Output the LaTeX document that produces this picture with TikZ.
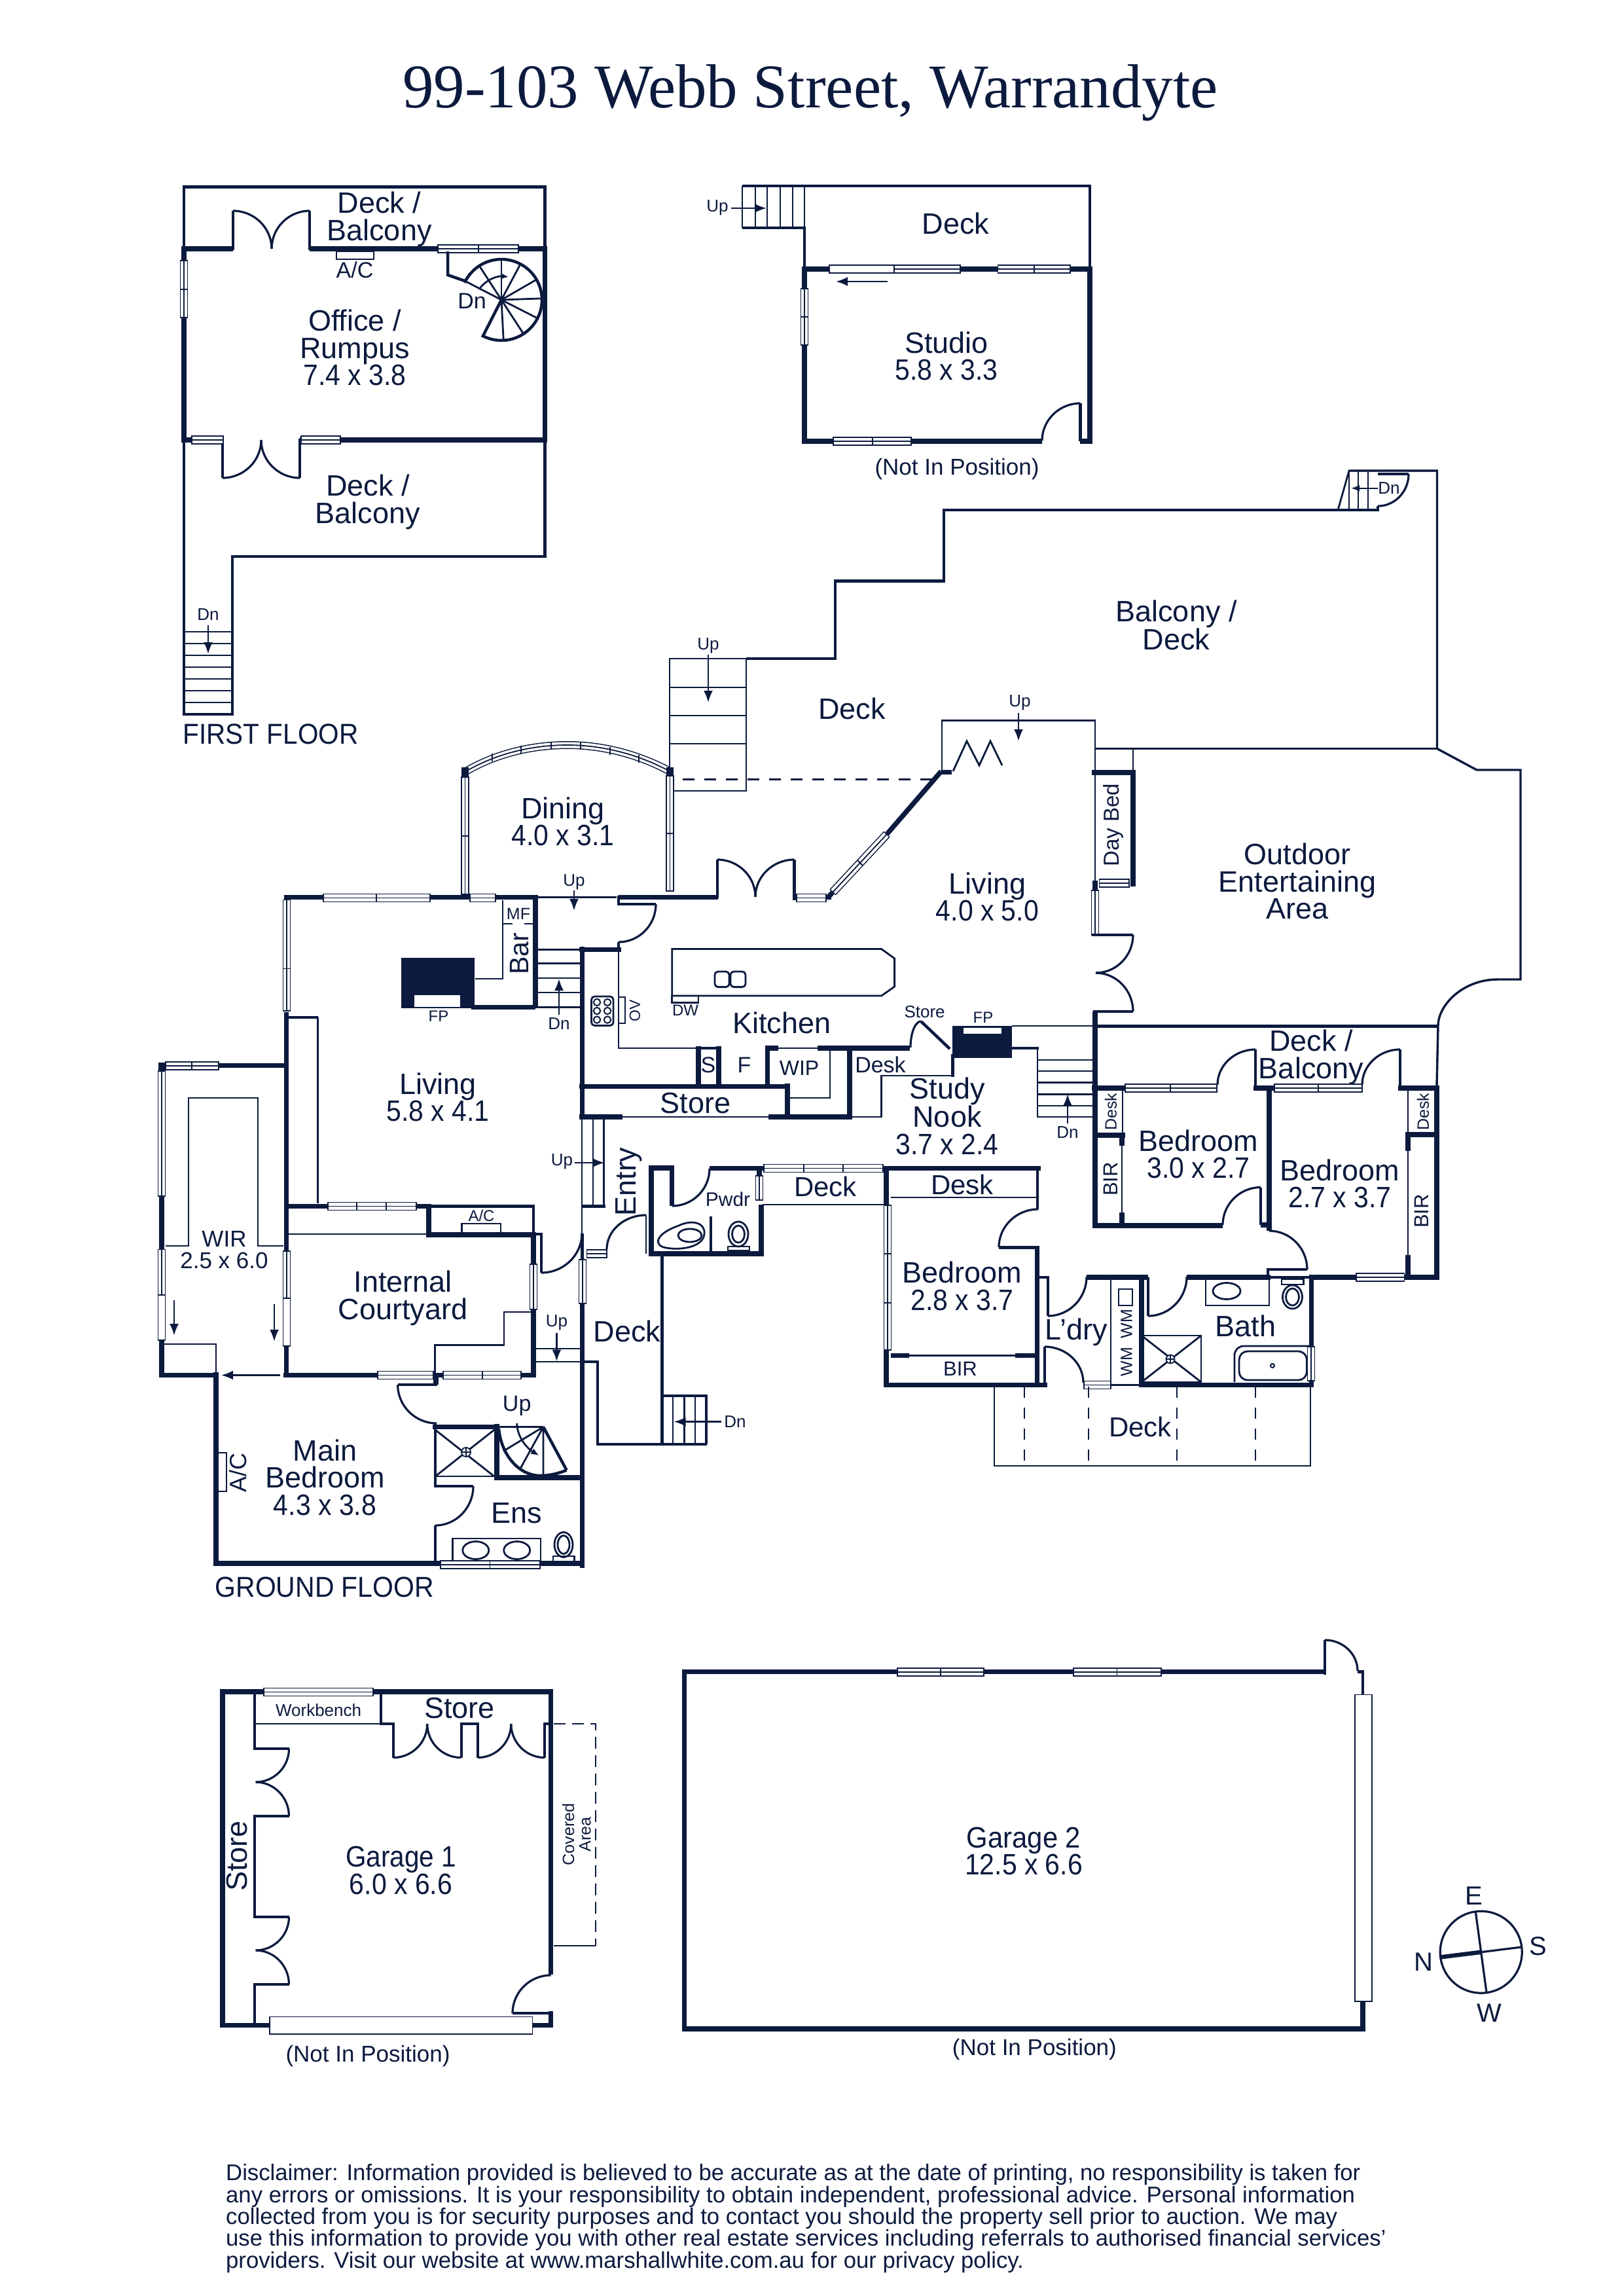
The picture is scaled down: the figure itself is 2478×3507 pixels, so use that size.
\documentclass[tikz,border=0pt]{standalone}
\usepackage{fontspec}
\setmainfont{Liberation Sans}
\newfontfamily\titlefont{Liberation Serif}
\usetikzlibrary{arrows.meta}
\definecolor{navy}{HTML}{0C1A3E}
\newcommand{\dm}[1]{\scalebox{0.91}[1]{#1}}
\newcommand{\qarc}[4]{\pgfmathsetmacro\qca{#2+0.55*(#4-(#2))}\pgfmathsetmacro\qcb{#3+0.55*(#1-(#3))}\draw[doorl] (#1,#2) .. controls (#1,\qca) and (\qcb,#4) .. (#3,#4);}
\newcommand{\hwin}[4]{\draw[winl,fill=white] (#1,#3-6) rectangle (#2,#3+6);\draw[winl] (#1,#3)--(#2,#3);\foreach \m in {#4}{\draw[winl] (\m,#3-6)--(\m,#3+6);}}
\newcommand{\vwin}[4]{\draw[winl,fill=white] (#1-5.5,#2) rectangle (#1+5.5,#3);\draw[winl] (#1,#2)--(#1,#3);\foreach \m in {#4}{\draw[winl] (#1-5.5,\m)--(#1+5.5,\m);}}
\newcommand{\hpl}[3]{\draw[winl,fill=white] (#1,#3-6) rectangle (#2,#3+6);}
\newcommand{\vpl}[3]{\draw[winl,fill=white] (#1-5.5,#2) rectangle (#1+5.5,#3);}
\tikzset{
 wall/.style={line width=7.5},
 mwall/.style={line width=4.5},
 thinl/.style={line width=2.8},
 doorl/.style={line width=3.2},
 winl/.style={line width=1.8},
 arr/.style={line width=2.6,-{Latex[length=18,width=14]}},
 room/.style={inner sep=0,align=center,font=\fontsize{45}{41.5}\selectfont},
 medt/.style={inner sep=0,align=center,font=\fontsize{34}{34}\selectfont},
 nipt/.style={inner sep=0,align=center,font=\fontsize{35}{35}\selectfont},
 smal/.style={inner sep=0,align=center,font=\fontsize{26}{26}\selectfont},
}
\begin{document}
\begin{tikzpicture}[x=1pt,y=-1pt,color=navy]
\useasboundingbox (0,0) rectangle (2478,3507);
\fill[white] (0,0) rectangle (2478,3507);

%%%% FIRST FLOOR OFFICE
\draw[mwall] (281,380)--(281,285.6)--(832.5,285.6)--(832.5,380);
\draw[mwall] (832.5,672)--(832.5,850)--(355,850)--(355,1091)--(281,1091)--(281,672);
\foreach \y in {965,983,1001,1019,1037,1055,1073}{\draw[thinl] (281,\y)--(355,\y);}
\draw[wall] (356,380)--(281,380)--(281,672)--(341,672);
\draw[wall] (473,380)--(832.5,380)--(832.5,672)--(458,672);
\draw[mwall] (356,382)--(356,322) (473,382)--(473,322) (340,670)--(340,730) (458,670)--(458,730);
\qarc{415}{380}{356}{322}\qarc{415}{380}{473}{322}\qarc{399}{672}{340}{730}\qarc{399}{672}{458}{730}
\hwin{669}{792}{380}{731}
\hwin{293}{341}{672}{293}
\hwin{460}{520}{672}{460}
\vwin{281}{398}{485}{442}
\draw[thinl,fill=white] (514,384) rectangle (571,396);
% spiral
\draw[mwall] (684,384)--(684,420)--(710,429);
\draw[thinl] (710,429)--(766,458);
\foreach \a in {90,62,30,2,-27,-57,-87,123}{\draw[thinl] (766,458)--({766+62*cos(\a)},{458-62*sin(\a)});}
\draw[mwall] plot[domain=155:-117,samples=50] ({766+62*cos(\x)},{458-62*sin(\x)})--(766,458);
\draw[thinl,-{Latex[length=10,width=8]}] (732,442) .. controls (742,427) and (760,421) .. (777,423);
\draw[arr] (318,955)--(318,999);

%%%% STUDIO
\draw[mwall] (1134,284)--(1665,284)--(1665,410);
\draw[mwall] (1229,410)--(1229,348)--(1134,348);
\draw[thinl] (1134,284)--(1134,348);
\foreach \x in {1154,1172,1192,1211,1229}{\draw[thinl] (\x,284)--(\x,348);}
\draw[wall] (1592,674)--(1229,674)--(1229,411)--(1665,411)--(1665,674)--(1650,674);
\draw[mwall] (1650.5,674)--(1650.5,616);
\qarc{1592}{673}{1650.5}{616}
\hpl{1267}{1366}{411}
\hwin{1366}{1467}{411}{1366}
\hwin{1524.5}{1635}{411}{1580}
\vwin{1229}{441}{527}{484}
\hwin{1273}{1392}{674}{1333}
\draw[arr] (1356,430)--(1277,430);
\draw[arr] (1117,318)--(1171,318);

%%%% BALCONY OUTLINE
\draw[mwall] (1140,1006)--(1276,1006)--(1276,887.5)--(1442,887.5)--(1442,779)--(2107,779);
\draw[thinl] (1023,1187)--(1023,1006)--(1140,1006);
\draw[thinl] (1140,1006)--(1140,1208)--(1023,1208);
\foreach \y in {1050,1093,1136}{\draw[thinl] (1023,\y)--(1140,\y);}
\draw[line width=3,dash pattern=on 18 off 15] (1043,1190.6)--(1431,1190.6);
\draw[arr] (1082,1000)--(1082,1073);
\draw[thinl] (2044,779)--(2061,719)--(2195.5,719);
\draw[line width=3.4] (2061,719)--(2195.5,719)--(2195.5,1143.5)--(2256,1176)--(2323,1176)--(2323,1496)--(2288,1496) .. controls (2235,1496) and (2197,1535) .. (2197,1567)--(2195,1658);
\draw[line width=3.4] (1673,1143.5)--(2195.5,1143.5);
\foreach \x in {2061,2075,2090}{\draw[thinl] (\x,719)--(\x,779);}
\draw[mwall] (2105,779)--(2105,773);
\draw[mwall] (2105,724)--(2152,724);
\qarc{2152}{724}{2105}{773}
\draw[line width=2.4,-{Latex[length=13,width=10]}] (2105,745.7)--(2064,745.7);

%%%% UPPER LIVING
\draw[thinl] (1439,1178)--(1439,1100.5)--(1673,1100.5)--(1673,1178);
\draw[thinl] (1731,1144)--(1731,1180);
\draw[thinl] (1456,1178)--(1477,1132)--(1496,1169)--(1513,1132)--(1531,1169);
\draw[arr] (1556,1089)--(1556,1132);
\draw[wall] (1355,1274)--(1438,1178);
\draw[wall] (1438,1179.5)--(1454,1179.5);
\draw[wall] (1668,1180)--(1735,1180);
\draw[wall] (1731,1176)--(1731,1354);
\draw[thinl] (1673,1180)--(1673,1345);
\draw[wall] (1673,1345)--(1673,1360);
\hwin{1679.5}{1725}{1349}{1679.5}
\vwin{1673}{1360}{1428}{1360}
\draw[mwall] (1668,1428)--(1731,1428);
\qarc{1731}{1428}{1674}{1486}\qarc{1731}{1545}{1674}{1486}
\draw[wall] (1673,1545)--(1673,1873);
\draw[mwall] (1670,1545)--(1731,1545);
\draw[mwall] (1672,1567.5)--(2197,1567.5);

%%%% DINING
\draw[line width=12] (712,1178) .. controls (760,1150) and (815,1138) .. (867,1138) .. controls (920,1138) and (975,1152) .. (1023,1178);
\draw[line width=9,white] (712,1178) .. controls (760,1150) and (815,1138) .. (867,1138) .. controls (920,1138) and (975,1152) .. (1023,1178);
\draw[line width=1.8] (712,1178) .. controls (760,1150) and (815,1138) .. (867,1138) .. controls (920,1138) and (975,1152) .. (1023,1178);
\foreach \x/\y in {752/1157,796/1145,842/1139,887/1139,932/1147,976/1159}{\draw[winl] (\x,\y-6)--(\x,\y+6);}
\fill (705,1172) rectangle (716,1188);
\fill (1018,1172) rectangle (1029,1186);
\vwin{710.5}{1187}{1366}{1277}
\vwin{1023.5}{1185}{1361}{1273}

%%%% MAIN LIVING WALLS
\draw[wall] (492.7,1370.5)--(437.4,1370.5)--(437.4,1374);
\draw[wall] (657,1370.5)--(717.6,1370.5);
\draw[wall] (756.6,1370.5)--(818,1370.5)--(818,1540);
\draw[wall] (945,1370.5)--(1097,1370.5);
\draw[mwall] (1096,1372)--(1096,1313);
\draw[mwall] (1213.5,1375)--(1213.5,1313);
\qarc{1154}{1370}{1096}{1313}\qarc{1154}{1370}{1213.5}{1313}
\hwin{1217}{1262}{1371.5}{1217}
\draw[wall] (1262,1370.5)--(1270,1370.5);
\draw[thinl] (818,1370.5)--(942,1370.5);
% diagonal window
\draw[line width=13] (1272,1363)--(1355,1274);
\draw[line width=10,white] (1273,1362)--(1354,1275);
\draw[winl] (1272,1363)--(1355,1274) (1310,1314)--(1318,1322);
\draw[wall] (1264,1372)--(1272,1363);
\hwin{494}{657}{1371.5}{575}
\hwin{717.6}{756.6}{1371.5}{717.6}
\draw[mwall] (945,1368)--(945,1381)--(1002,1381);
\qarc{1002}{1381}{945}{1439}
\draw[mwall] (945,1439)--(945,1454);
\draw[thinl] (768,1375)--(768,1495)--(726,1495);
\draw[thinl] (769,1411)--(783,1411) (800.5,1411)--(814,1411);
\draw[wall] (720,1538.4)--(818,1538.4);
\fill (613,1462.5) rectangle (724.7,1540);
\fill[white] (632.5,1519.6) rectangle (703,1537.5);
\foreach \y in {1450.5,1471.4,1494,1516,1538.4}{\draw[thinl] (818,\y)--(889,\y);}
\draw[arr] (854,1550)--(854,1495);
\draw[arr] (877,1360)--(877,1391);
\draw[wall] (437.4,1546)--(437.4,2104);
\vwin{438}{1374.5}{1544}{1479.5}
\draw[mwall] (441,1554)--(485.6,1554);
\draw[thinl] (485.6,1554)--(485.6,1838);
% WIR
\draw[wall] (437.4,1627.7)--(330,1627.7);
\fill (242,1623) rectangle (252.6,1638);
\hwin{252.6}{334}{1628}{293}
\draw[wall] (247,1827)--(247,1908.5);
\vwin{247}{1636}{1827}{1636}
\vwin{247}{1908.5}{1978}{1908.5}
\vpl{247}{1978}{2047}
\draw[wall] (247,2047)--(247,2100.5)--(333,2100.5);
\draw[thinl] (252.6,1903)--(288,1903)--(288,1677)--(394,1677)--(394,1903)--(433,1903);
\draw[thinl] (250,2053)--(330,2053)--(330,2100);
\draw[arr] (266,1986)--(266,2040);
\draw[arr] (419,1992)--(419,2049);
\draw[arr] (427.6,2100.5)--(338,2100.5);
% Courtyard
\draw[wall] (433,2100.5)--(577,2100.5);
\draw[wall] (662,2100.5)--(677,2100.5);
\draw[wall] (796,2100.5)--(819,2100.5);
\draw[wall] (815,2104)--(815,1886);
\draw[wall] (651,1886)--(819,1886);
\draw[wall] (437,1842.4)--(501,1842.4);
\draw[wall] (636,1842.4)--(655,1842.4)--(655,1890);
\draw[mwall] (658,1842.4)--(815,1842.4)--(815,1886);
\draw[thinl] (437,1885)--(655,1885);
\draw[thinl] (705.7,1882.6)--(705.7,1869)--(765,1869)--(765,1882.6);
\hwin{501}{636}{1842.4}{545,590}
\vwin{438}{1911}{1983}{1911}
\vpl{438}{1983}{2056}
\vwin{815}{1931}{2000}{1931}
\hwin{577}{662}{2100.5}{577}
\hwin{677}{796}{2100.5}{736.6}
\draw[thinl] (811,2004)--(770,2004)--(770,2054.5)--(664.5,2054.5)--(664.5,2100);
\draw[mwall] (815,1885)--(827,1885)--(827,1944);
\qarc{889}{1884}{827}{1944}
% entry side
\draw[wall] (889.4,1446)--(889.4,1710);
\draw[wall] (885,1450.5)--(949,1450.5);
\draw[wall] (885,1659.4)--(1207,1659.4);
\draw[wall] (885,1706)--(950.5,1706);
\draw[wall] (1174,1706)--(1302,1706);
\draw[wall] (1203,1655)--(1203,1706);
\draw[wall] (1298,1597)--(1298,1710);
\draw[thinl] (950,1706)--(1174,1706);
\draw[thinl] (945,1450)--(945,1601)--(1063.5,1601);
\draw[thinl] (889,1707)--(889,1884) (906,1707)--(906,1842) (922.5,1707)--(922.5,1842);
\draw[mwall] (889,1842.4)--(925,1842.4);
\draw[arr] (877.5,1776)--(923.6,1776);
\draw[mwall] (889.4,1884)--(889.4,1924);
\vwin{890}{1924}{1991}{1924}
\draw[wall] (889.4,1991)--(889.4,2395);
\qarc{927}{1908}{987}{1856}
\draw[thinl] (987,1856)--(987,1915);
\hpl{896.5}{927}{1915}
\draw[winl] (896.5,1915)--(927,1915);
% Pwdr
\draw[wall] (1026.5,1842)--(1026.5,1784)--(995,1784)--(995,1915)--(1163,1915)--(1163,1840);
\draw[wall] (1084,1784.6)--(1167,1784.6);
\draw[wall] (1160,1784)--(1160,1797);
\draw[mwall] (1086,1858)--(1086,1913);
\qarc{1084}{1785}{1027}{1842}
\vpl{1160}{1796}{1833}
\draw[winl] (1160,1796)--(1160,1833);
\draw[thinl] (1037,1872) .. controls (1058,1862) and (1078,1868) .. (1076,1885) .. controls (1074,1905) and (1040,1910) .. (1018,1906) .. controls (998,1903) and (1000,1885) .. (1037,1872);
\draw[thinl] (1054,1887) ellipse (18 and 10);
\draw[thinl] (1128,1885) ellipse (15 and 19);
\draw[thinl] (1128,1885) ellipse (9.5 and 13);
\draw[thinl] (1112,1904) rectangle (1145,1910);
% Deck beside
\draw[thinl] (1165,1840)--(1354,1840);
\hwin{1167}{1349}{1784.5}{1228,1288}
\draw[thinl] (889,2060)--(818,2060);
\draw[thinl] (818,2080)--(912.8,2080);
\draw[mwall] (889,2080)--(912.8,2080)--(912.8,2206)--(1080,2206);
\draw[mwall] (1011.4,1915)--(1011.4,2206);
\draw[mwall] (1011,2132)--(1079,2132)--(1079,2206);
\foreach \x in {1028,1045.6,1062}{\draw[thinl] (\x,2132)--(\x,2206);}
\draw[arr] (1101.8,2171.6)--(1029.5,2171.6);
\draw[arr] (850.4,2036)--(850.4,2079.5);
% main bedroom
\draw[wall] (330,2096)--(330,2388)--(672.6,2388);
\draw[wall] (825,2388)--(893,2388);
\hwin{672.6}{825}{2390}{748.5}
\draw[wall] (666,2100)--(666,2115);
\draw[mwall] (668,2115)--(607.6,2115);
\qarc{607.6}{2115}{667}{2174}
\draw[mwall] (665,2174)--(665,2272);
\draw[mwall] (663,2270)--(723,2270);
\qarc{723}{2270}{665}{2330}
\draw[mwall] (665,2330)--(665,2388);
\draw[wall] (661,2179.5)--(761,2179.5);
\draw[wall] (759,2175)--(759,2261);
\draw[wall] (755,2257)--(889,2257);
\draw[thinl] (665,2255)--(759,2255);
\draw[thinl] (665,2184)--(755,2255) (755,2184)--(665,2255);
\draw[winl,fill=white] (712,2218) circle (7);
\draw[winl] (705,2218)--(719,2218) (712,2211)--(712,2225);
\draw[thinl] (761,2179.5)--(830,2179.5);
\draw[mwall] (830,2179.5)--(865.6,2245.5);
\draw[mwall] (762,2182) .. controls (766,2225) and (795,2254) .. (825,2254) .. controls (840,2254) and (855,2250) .. (865.6,2245.5);
\draw[thinl] (830,2179.5)--(769,2216.5) (830,2179.5)--(795,2243) (830,2179.5)--(830,2252);
\draw[thinl,-{Latex[length=12,width=10]}] (789.7,2174) .. controls (790,2195) and (805,2212) .. (823.4,2223);
\draw[thinl] (334,2278)--(346,2278)--(346,2219)--(334,2219);
\draw[thinl] (691.6,2384)--(691.6,2350)--(826,2350)--(826,2384);
\draw[thinl] (726.8,2368) ellipse (20 and 13.5);
\draw[thinl] (789.7,2368) ellipse (20 and 13.5);
\draw[thinl] (861,2359.4) ellipse (14 and 19);
\draw[thinl] (861,2359.4) ellipse (9 and 14);
\draw[thinl] (845,2384)--(845,2377)--(877.5,2377)--(877.5,2384);
% hob + kitchen
\draw[thinl,rounded corners=5] (903.5,1522) rectangle (937,1566.5);
\foreach \y in {1531,1544,1557.6}{\draw[line width=2] (912,\y) circle (5.2) (928,\y) circle (5.2);}
\draw[thinl] (945,1523)--(955,1523)--(955,1563)--(945,1563);
\draw[thinl] (1026.8,1449.5)--(1346.6,1449.5)--(1366.6,1464)--(1366.6,1507)--(1346.6,1521)--(1026.8,1521)--cycle;
\draw[thinl,rounded corners=5] (1092,1484) rectangle (1114,1507.6);
\draw[thinl,rounded corners=5] (1116,1484) rectangle (1139,1507.6);
\draw[thinl] (1026.8,1521) rectangle (1067,1531.7);
\draw[mwall] (1063.5,1601)--(1101,1601);
\draw[wall] (1067,1598)--(1067,1659) (1098,1598)--(1098,1659);
\draw[wall] (1172.6,1659)--(1172.6,1601)--(1189,1601);
\draw[thinl] (1189,1601)--(1249,1601);
\draw[thinl] (1268,1601)--(1268,1677)--(1205,1677);
\draw[wall] (1249,1601)--(1389.6,1601);
\qarc{1391}{1600}{1407}{1560}
\draw[mwall] (1407,1560)--(1451,1602);
\fill (1454.5,1567) rectangle (1546,1615.6);
\fill[white] (1471.7,1570) rectangle (1530,1578.6);
\draw[thinl] (1546,1567)--(1672,1567);
\draw[mwall] (1546,1601)--(1587,1601);
\draw[mwall] (1455.6,1610)--(1455.6,1645);
\draw[thinl] (1455.6,1643)--(1346.6,1643)--(1346.6,1706)--(1298,1706);
\draw[thinl] (1585,1601)--(1585,1706)--(1671,1706);
\foreach \y in {1619,1636,1653.6,1671.4,1689}{\draw[thinl] (1585,\y)--(1671,\y);}
\draw[arr] (1631,1716)--(1631,1671);

%%%% BEDROOMS EAST
\draw[wall] (1668,1662)--(1719,1662);
\hwin{1719}{1859}{1662}{1788}
\qarc{1860}{1657}{1918}{1603}
\draw[mwall] (1918,1603)--(1918,1662);
\draw[wall] (1915,1662)--(1947,1662);
\hwin{1947}{2081}{1662}{2014}
\qarc{2081}{1657}{2139}{1603}
\draw[mwall] (2139,1603)--(2139,1662);
\draw[wall] (2136,1662)--(2199,1662);
\draw[wall] (2195,1658)--(2195,1955);
\draw[wall] (1939,1660)--(1939,1880);
\draw[wall] (1926,1871)--(1943,1871);
\draw[thinl] (1715,1662)--(1715,1733);
\draw[wall] (1672,1734)--(1719,1734);
\draw[wall] (1714,1734)--(1714,1750);
\draw[thinl] (1714,1750)--(1714,1852);
\draw[wall] (1714,1852)--(1714,1871);
\draw[wall] (1669,1872)--(1868,1872);
\qarc{1868}{1871}{1926}{1813.5}
\draw[mwall] (1926,1813.5)--(1926,1871);
\qarc{1997}{1939}{1939}{1880}
\draw[mwall] (1997,1939)--(1937,1939)--(1937,1951);
\draw[thinl] (2151,1662)--(2151,1733);
\draw[wall] (2147,1733)--(2195,1733);
\draw[wall] (2151,1729)--(2151,1758);
\draw[thinl] (2151,1758)--(2151,1917);
\draw[wall] (2151,1917)--(2151,1951);
\draw[wall] (2003,1951)--(2072,1951);
\draw[wall] (2145,1951)--(2199,1951);
\hpl{2072}{2145.5}{1951}
\draw[winl] (2072,1951)--(2145.5,1951);
%%%% BATH, LAUNDRY
\draw[wall] (1660,1951)--(1754,1951);
\draw[wall] (1813,1951)--(1941,1951);
\draw[mwall] (1936,1951)--(2007,1951);
\draw[wall] (2003.5,1947)--(2003.5,2057);
\draw[wall] (2003.5,2105)--(2003.5,2119);
\vpl{2003}{2057}{2109}
\draw[winl] (2003,2057)--(2003,2109);
\draw[wall] (1744,1951)--(1744,2115.5);
\draw[wall] (1740,2115.5)--(2007,2115.5);
\draw[thinl] (1697,1951)--(1697,2115);
\draw[thinl] (1697,2115.5)--(1740,2115.5);
\draw[mwall] (1754,1951)--(1754,2010);
\qarc{1813}{1950}{1754}{2010}
\qarc{1660}{1950}{1601}{2010}
\qarc{1655}{2112}{1596}{2057}
\draw[mwall] (1586,1951)--(1601,1951)--(1601,2010);
\draw[mwall] (1596,2057)--(1596,2115);
\draw[thinl] (1709,1969) rectangle (1730,1994);
\draw[thinl] (1744,2040)--(1835,2040)--(1835,2111)--(1744,2111)--cycle;
\draw[thinl] (1744,2040)--(1835,2111) (1835,2040)--(1744,2111);
\draw[winl,fill=white] (1788,2076) circle (6.5);
\draw[winl] (1781.5,2076)--(1794.5,2076) (1788,2069.5)--(1788,2082.5);
\draw[thinl] (1842,1951)--(1842,1994)--(1939,1994)--(1939,1951);
\draw[thinl] (1874,1972) ellipse (21 and 12.5);
\draw[thinl] (1974.5,1981) ellipse (15 and 18);
\draw[thinl] (1974.5,1981) ellipse (10 and 13);
\draw[thinl] (1958,1954) rectangle (1991.5,1962);
\draw[thinl,rounded corners=14] (2000,2056)--(1886,2056)--(1886,2111);
\draw[thinl,rounded corners=13] (1893,2064) rectangle (1996.5,2108);
\draw[line width=2] (1944,2086) circle (3);
%%%% BEDROOM 2.8
\draw[wall] (1354,1841)--(1354,1784.5)--(1590,1784.5);
\draw[mwall] (1585,1784)--(1585,1847);
\qarc{1526}{1905}{1586}{1847}
\draw[mwall] (1526,1905.5)--(1587,1905.5);
\draw[wall] (1584.6,1903)--(1584.6,2115.5);
\draw[wall] (1354,2062)--(1354,2119);
\draw[wall] (1350,2115.5)--(1600,2115.5);
\vwin{1356}{1841}{2062}{1915,1990}
\draw[thinl] (1361,1829)--(1586,1829);
\draw[wall] (1361,2070.6)--(1389,2070.6) (1551,2070.6)--(1582,2070.6);
\draw[thinl] (1389,2070.6)--(1551,2070.6);
\hwin{1656}{1697}{2115.5}{1656}
%%%% LOWER DECK
\draw[thinl] (1519,2118)--(1519,2239)--(2002,2239)--(2002,2118);
\draw[thinl,dash pattern=on 17 off 15] (1565,2118)--(1565,2239) (1663,2118)--(1663,2239) (1798,2118)--(1798,2239) (1918,2118)--(1918,2239);

%%%% GARAGE 1
\draw[wall] (336,2584)--(845,2584);
\draw[wall] (340,2580)--(340,3093.4)--(411.6,3093.4);
\draw[wall] (813.4,3093.4)--(845,3093.4);
\draw[wall] (841.5,2580)--(841.5,3016);
\draw[wall] (841.5,3072)--(841.5,3097);
\draw[mwall] (841.5,3075)--(783,3075);
\qarc{783}{3075}{841.5}{3017}
\draw[mwall] (389,2584)--(389,2671)--(441.5,2671);
\draw[mwall] (441.5,2774)--(389,2774)--(389,2928)--(441.5,2928);
\draw[mwall] (441.5,3031)--(389,3031)--(389,3093);
\qarc{441.5}{2671}{390.6}{2722}\qarc{441.5}{2774}{390.6}{2722}\qarc{441.5}{2928}{390.6}{2979}\qarc{441.5}{3031}{390.6}{2979}
\draw[thinl] (389,2633)--(582,2633);
\draw[mwall] (582,2584)--(582,2633)--(601,2633)--(601,2684.6);
\draw[mwall] (705,2684.6)--(705,2633)--(730,2633)--(730,2684.6);
\draw[mwall] (832,2684.6)--(832,2633)--(838,2633);
\qarc{652.7}{2633}{601}{2684.6}\qarc{652.7}{2633}{704}{2684.6}\qarc{780.8}{2633}{730}{2684.6}\qarc{780.8}{2633}{832}{2684.6}
\hwin{402.7}{570}{2584.5}{402.7}
\draw[winl,fill=white] (411.6,3080.5) rectangle (813.4,3106.7);
\draw[thinl,dash pattern=on 18 off 10] (846,2633)--(910,2633)--(910,2972);
\draw[thinl] (910,2972)--(846,2972);

%%%% GARAGE 2
\draw[wall] (2024,2553.7)--(1045.6,2553.7)--(1045.6,3099)--(2082,3099)--(2082,3057);
\draw[mwall] (2024,2558)--(2024,2505);
\qarc{2074}{2552}{2024}{2505}
\draw[mwall] (2074,2553.7)--(2082,2553.7)--(2082,2590);
\hwin{1370.6}{1503}{2554}{1437}
\hwin{1640}{1773.6}{2554}{1706.5}
\draw[winl,fill=white] (2069.6,2588.4) rectangle (2096,3056.8);

%%%% COMPASS
\draw[line width=3.2] (2262.7,2981.7) circle (62.5);
\draw[line width=3.2] (2254.3,2920)--(2271,3043.3);
\draw[line width=3.2] (2324.3,2974)--(2262.7,2981.7);
\draw[line width=6.5] (2201.7,2989.3)--(2262.7,2981.7);

%%%% TEXT
\node[inner sep=0,font=\titlefont\fontsize{95}{95}\selectfont] (title) at (1238,142) {99-103 Webb Street, Warrandyte};
\node[room] (deck1) at (579.5,335) {Deck /\\Balcony};
\node[room] (office) at (542,531) {Office /\\Rumpus\\\dm{7.4 x 3.8}};
\node[room] (deck2) at (562,767) {Deck /\\Balcony};
\node[medt] (ac1) at (542,412) {A/C};
\node[medt] (dn1) at (721,460) {Dn};
\node[smal] (dn2) at (318,939) {Dn};
\node[anchor=west,inner sep=0,font=\fontsize{44}{44}\selectfont] (ff) at (279.5,1121) {\scalebox{0.92}[1]{FIRST FLOOR}};
\node[room] (studiodeck) at (1460,341) {Deck};
\node[room] (studio) at (1446,544) {Studio\\\dm{5.8 x 3.3}};
\node[nipt] (nip1) at (1462,716) {(Not In Position)};
\node[smal] (up1) at (1096,317) {Up};
\node[room] (balc) at (1797,955) {Balcony /\\Deck};
\node[room] (deck3) at (1301.5,1082) {Deck};
\node[smal] (up2) at (1082,986) {Up};
\node[smal] (up3) at (1558,1073) {Up};
\node[smal] (dn3) at (2122,745.7) {Dn};
\node[room] (outdoor) at (1982,1346) {Outdoor\\Entertaining\\Area};
\node[room] (living1) at (1508.4,1370) {Living\\\dm{4.0 x 5.0}};
\node[room] (dining) at (860,1255) {Dining\\\dm{4.0 x 3.1}};
\node[room] (living2) at (669,1676) {Living\\\dm{5.8 x 4.1}};
\node[inner sep=0,rotate=90,font=\fontsize{33}{33}\selectfont] (daybed) at (1701,1260) {Day Bed};
\node[smal] (up4) at (877,1347) {Up};
\node[inner sep=0,font=\fontsize{25}{25}\selectfont] (mf) at (792,1395.5) {MF};
\node[inner sep=0,rotate=90,font=\fontsize{41}{41}\selectfont] (bar) at (793.5,1457) {Bar};
\node[inner sep=0,font=\fontsize{24}{24}\selectfont] (fp1) at (670,1552) {FP};
\node[smal] (dn4) at (854,1564) {Dn};
\node[inner sep=0,rotate=90,font=\fontsize{23}{23}\selectfont] (ov) at (970,1544) {OV};
\node[inner sep=0,font=\fontsize{24}{24}\selectfont] (dw) at (1047,1543) {DW};
\node[room] (kitchen) at (1194.4,1562) {Kitchen};
\node[smal] (store1) at (1412.6,1545.5) {Store};
\node[inner sep=0,font=\fontsize{24}{24}\selectfont] (fp2) at (1502,1554) {FP};
\node[room] (store2) at (1062.4,1685) {Store};
\node[medt] (s) at (1082,1627) {S};
\node[medt] (f) at (1137,1627) {F};
\node[inner sep=0,font=\fontsize{32}{32}\selectfont] (wip) at (1221,1631) {WIP};
\node[medt] (desk1) at (1345,1626) {Desk};
\node[room] (study) at (1447,1705) {Study\\Nook\\\dm{3.7 x 2.4}};
\node[smal] (dn5) at (1631,1730) {Dn};
\node[smal] (up5) at (858.5,1774) {Up};
\node[room,rotate=90] (entry) at (961,1805) {Entry};
\node[inner sep=0,font=\fontsize{30}{30}\selectfont] (pwdr) at (1112,1832) {Pwdr};
\node[room,font=\fontsize{42}{42}\selectfont] (deck4) at (1261,1812) {Deck};
\node[room,font=\fontsize{42}{42}\selectfont] (desk2) at (1470,1809.5) {Desk};
\node[room] (bed1) at (1470,1964.5) {Bedroom\\\dm{2.8 x 3.7}};
\node[inner sep=0,font=\fontsize{31}{31}\selectfont] (bir1) at (1467,2091) {BIR};
\node[room] (ldry) at (1644,2035) {L’dry};
\node[inner sep=0,rotate=90,font=\fontsize{25}{25}\selectfont] (wm1) at (1721,2022) {WM};
\node[inner sep=0,rotate=90,font=\fontsize{25}{25}\selectfont] (wm2) at (1721,2080) {WM};
\node[room] (bath) at (1903,2025) {Bath};
\node[room,font=\fontsize{42}{42}\selectfont] (deck5) at (1742,2179) {Deck};
\node[room] (deck6) at (2003,1615) {Deck /\\Balcony};
\node[room] (bed2) at (1831,1763) {Bedroom\\\dm{3.0 x 2.7}};
\node[room] (bed3) at (2047,1808) {Bedroom\\\dm{2.7 x 3.7}};
\node[inner sep=0,rotate=90,font=\fontsize{25}{25}\selectfont] (deskb) at (1697,1698) {Desk};
\node[inner sep=0,rotate=90,font=\fontsize{25}{25}\selectfont] (deskc) at (2174,1698) {Desk};
\node[inner sep=0,rotate=90,font=\fontsize{31}{31}\selectfont] (bir2) at (1697,1801) {BIR};
\node[inner sep=0,rotate=90,font=\fontsize{31}{31}\selectfont] (bir3) at (2172,1850) {BIR};
\node[inner sep=0,align=center,font=\fontsize{35}{33}\selectfont] (wir) at (342.5,1909) {WIR\\2.5 x 6.0};
\node[room] (court) at (615.7,1983) {Internal\\Courtyard};
\node[inner sep=0,font=\fontsize{24}{24}\selectfont] (ac2) at (735.5,1857) {A/C};
\node[room] (deck7) at (958,2033.5) {Deck};
\node[smal] (up6) at (850.4,2020) {Up};
\node[smal] (dn6) at (1123,2171.6) {Dn};
\node[medt] (up7) at (789.7,2147) {Up};
\node[room] (mainb) at (496.5,2256.5) {Main\\Bedroom\\\dm{4.3 x 3.8}};
\node[inner sep=0,rotate=90,font=\fontsize{36}{36}\selectfont] (ac3) at (364,2249) {A/C};
\node[room] (ens) at (789.7,2311.6) {Ens};
\node[anchor=west,inner sep=0,font=\fontsize{44}{44}\selectfont] (gf) at (328.5,2424) {\scalebox{0.93}[1]{GROUND FLOOR}};
\node[inner sep=0,font=\fontsize{26}{26}\selectfont] (wb) at (486.6,2612) {Workbench};
\node[room] (store3) at (701.8,2609) {Store};
\node[room,rotate=90] (store4) at (362.5,2835) {Store};
\node[room] (g1) at (612.5,2857) {\scalebox{0.9}[1]{Garage 1}\\\dm{6.0 x 6.6}};
\node[inner sep=0,rotate=90,font=\fontsize{25}{25}\selectfont] (cov) at (868.3,2802) {Covered};
\node[inner sep=0,rotate=90,font=\fontsize{25}{25}\selectfont] (area) at (893.8,2802) {Area};
\node[nipt] (nip2) at (562,3140) {(Not In Position)};
\node[room] (g2) at (1564,2827.5) {\scalebox{0.93}[1]{Garage 2}\\\dm{12.5 x 6.6}};
\node[nipt] (nip3) at (1580.4,3130) {(Not In Position)};
\node[inner sep=0,font=\fontsize{40}{40}\selectfont] (ce) at (2251.7,2895.7) {E};
\node[inner sep=0,font=\fontsize{40}{40}\selectfont] (cs) at (2350,2972.7) {S};
\node[inner sep=0,font=\fontsize{40}{40}\selectfont] (cn) at (2175,2996.7) {N};
\node[inner sep=0,font=\fontsize{40}{40}\selectfont] (cw) at (2275,3075) {W};
\tikzset{discl/.style={anchor=west,inner sep=0,font=\fontsize{34.7}{34.7}\selectfont}}
\node[discl] (d1) at (345,3321.7) {Disclaimer: Information provided is believed to be accurate as at the date of printing, no responsibility is taken for};
\node[discl] (d2) at (345,3355) {any errors or omissions. It is your responsibility to obtain independent, professional advice. Personal information};
\node[discl] (d3) at (345,3388) {collected from you is for security purposes and to contact you should the property sell prior to auction. We may};
\node[discl] (d4) at (345,3421.7) {use this information to provide you with other real estate services including referrals to authorised financial services’};
\node[discl] (d5) at (345,3455) {providers. Visit our website at www.marshallwhite.com.au for our privacy policy.};
\end{tikzpicture}
\end{document}
